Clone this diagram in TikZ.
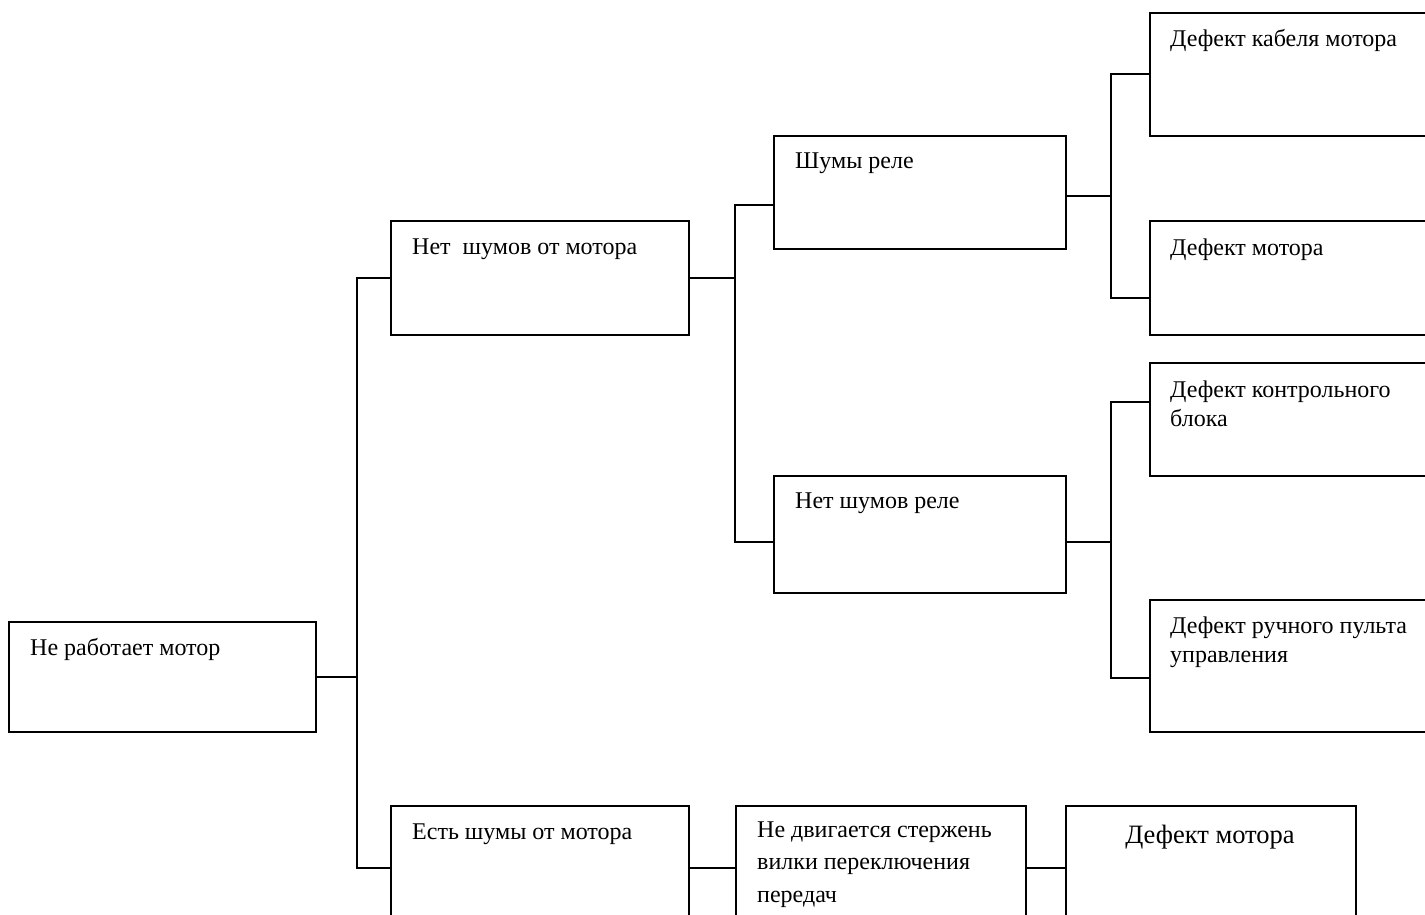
\documentclass[tikz,border=0pt]{standalone}
\usepackage{fontspec}
\setmainfont{Liberation Serif}
\usetikzlibrary{calc}
\begin{document}
\begin{tikzpicture}[x=1pt,y=-1pt,
  box/.style={draw=black,line width=1.8pt,inner sep=0pt,anchor=north west},
  txt/.style={inner sep=0pt,anchor=base west,align=left,font=\fontsize{24}{29}\selectfont},
  link/.style={draw=black,line width=1.8pt}]
\useasboundingbox (0,0) rectangle (1425,915);
\clip (0,0) rectangle (1425,915);
% boxes
\node[box,minimum width=307pt,minimum height=110pt] (A) at (8,621) {};
\node[box,minimum width=298pt,minimum height=114pt] (B) at (390,220) {};
\node[box,minimum width=292pt,minimum height=113pt] (C) at (773,135) {};
\node[box,minimum width=292pt,minimum height=117pt] (D) at (773,475) {};
\node[box,minimum width=298pt,minimum height=124pt] (E) at (390,805) {};
\node[box,minimum width=311pt,minimum height=123pt] (F) at (1149,12) {};
\node[box,minimum width=311pt,minimum height=114pt] (G) at (1149,220) {};
\node[box,minimum width=311pt,minimum height=113pt] (H) at (1149,362) {};
\node[box,minimum width=311pt,minimum height=132pt] (I) at (1149,599) {};
\node[box,minimum width=290pt,minimum height=124pt] (J) at (735,805) {};
\node[box,minimum width=290pt,minimum height=124pt] (K) at (1065,805) {};
% texts (multi-line nodes: base = baseline of the last line)
\node[txt] (tA) at (30,655) {Не работает мотор};
\node[txt] (tB) at (412,254) {Нет\ \ шумов от мотора};
\node[txt] (tC) at (795,168) {Шумы реле};
\node[txt] (tD) at (795,508) {Нет шумов реле};
\node[txt] (tE) at (412,839) {Есть шумы от мотора};
\node[txt] (tF) at (1170,47) {Дефект кабеля мотора};
\node[txt] (tG) at (1170,255) {Дефект мотора};
\node[txt] (tH) at (1170,426) {Дефект контрольного\\блока};
\node[txt] (tI) at (1170,662) {Дефект ручного пульта\\управления};
\node[txt,font=\fontsize{24}{32.5}\selectfont] (tJ) at (757,902) {Не двигается стержень\\вилки переключения\\передач};
\node[inner sep=0pt,anchor=base,font=\fontsize{26.5}{32}\selectfont] (tK) at (1210,843) {Дефект мотора};
% junction columns
\coordinate (x1) at (357,0);
\coordinate (x2) at (735,0);
\coordinate (x3) at (1111,0);
\coordinate (cw) at ([yshift=-12.5pt]C.west);
\coordinate (dw) at ([yshift=-7.5pt]D.west);
\coordinate (ce) at ([yshift=-3.5pt]C.east);
\coordinate (de) at ([yshift=-7.5pt]D.east);
\coordinate (gw) at ([yshift=-20pt]G.west);
\coordinate (hw) at ([yshift=17.5pt]H.west);
\coordinate (iw) at ([yshift=-12pt]I.west);
% connectors
\draw[link] (A.east) -- (A.east -| x1);
\draw[link] (B.west) -| (x1 |- E.west) -- (E.west);
\draw[link] (B.east) -- (B.east -| x2);
\draw[link] (cw) -| (x2 |- dw) -- (dw);
\draw[link] (ce) -- (ce -| x3);
\draw[link] (F.west) -| (x3 |- gw) -- (gw);
\draw[link] (de) -- (de -| x3);
\draw[link] (hw) -| (x3 |- iw) -- (iw);
\draw[link] (E.east) -- (J.west);
\draw[link] (J.east) -- (K.west);
\end{tikzpicture}
\end{document}
